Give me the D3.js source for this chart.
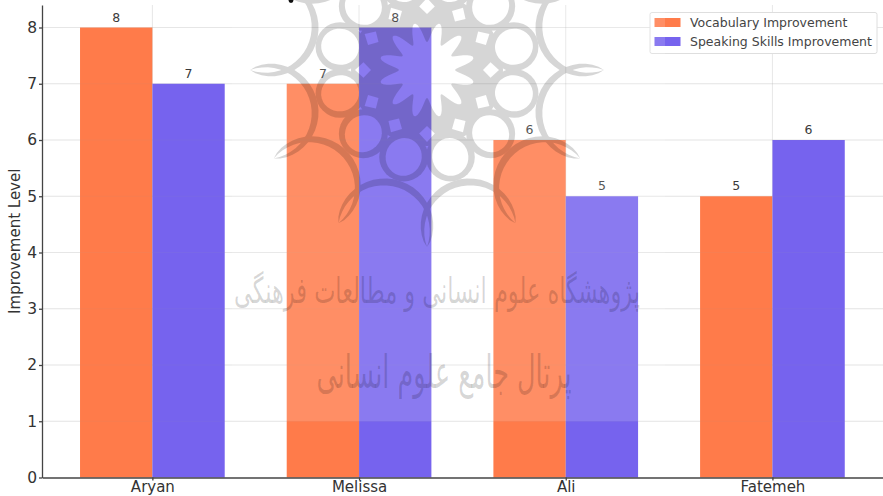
<!DOCTYPE html>
<html>
<head>
<meta charset="utf-8">
<script src="https://cdn.jsdelivr.net/npm/d3@7"></script>
<style>
    html, body { margin: 0; padding: 0; background: #fff; overflow: hidden; }
    svg { display: block; font-family: "DejaVu Sans", sans-serif; }
    .tick text { fill: #333; }
</style>
</head>
<body>
<div id="graph-container"></div>
<script>
const students = ["Aryan", "Melissa", "Ali", "Fatemeh"];
const vocabulary = [8, 7, 6, 5];
const speaking = [7, 8, 5, 6];
const yTicks = [0, 1, 2, 3, 4, 5, 6, 7, 8];
const seriesNames = ["Vocabulary Improvement", "Speaking Skills Improvement"];
const colors = ["#ff7b4a", "#7663ee"];
const watermarkLines = ["پژوهشگاه علوم انسانی و مطالعات فرهنگی", "پرتال جامع علوم انسانی"];

const width = 883, height = 496;
const margin = { top: 5, right: 0, bottom: 18.5, left: 42 };
const barWidth = 0.35;

const svg = d3.select("#graph-container")
    .append("svg")
    .attr("width", width)
    .attr("height", height);

const x = d3.scaleLinear()                                                  // index of student => pixel
    .domain([-0.534, 3.535])
    .range([margin.left, width - margin.right]);

const y = d3.scaleLinear()
    .domain([0, 8.4])
    .range([height - margin.bottom, margin.top]);

// Grid goes under the bars, a fainter copy goes over them further down
function drawGrid(parent, opacity) {
    const g = parent.append("g").attr("stroke", "#a8a8a8").attr("stroke-opacity", opacity);
    g.selectAll("line.h").data(yTicks.slice(1)).join("line")
        .attr("class", "h")
        .attr("x1", margin.left).attr("x2", width)
        .attr("y1", d => y(d)).attr("y2", d => y(d));
    g.selectAll("line.v").data(students).join("line")
        .attr("class", "v")
        .attr("x1", (d, i) => x(i)).attr("x2", (d, i) => x(i))
        .attr("y1", y(0)).attr("y2", margin.top);
}
drawGrid(svg, 0.22);

// Bars
[vocabulary, speaking].forEach((values, s) => {
    const left = i => (s === 0 ? x(i - barWidth) : x(i));
    svg.append("g")
        .selectAll("rect")
        .data(values)
        .join("rect")
        .attr("x", (d, i) => left(i))
        .attr("y", d => y(d))
        .attr("width", x(barWidth) - x(0))
        .attr("height", d => y(0) - y(d))
        .attr("fill", colors[s]);

    svg.append("g")
        .selectAll("text")
        .data(values)
        .join("text")
        .attr("x", (d, i) => left(i) + (x(barWidth) - x(0)) / 2)
        .attr("y", d => y(d) - 6)
        .attr("text-anchor", "middle")
        .attr("font-size", 12.5)
        .attr("fill", "#3a3a3a")
        .text(d => d);
});

drawGrid(svg, 0.08);

// Axes
const xAxis = svg.append("g")
    .attr("transform", `translate(0, ${y(0)})`)
    .call(d3.axisBottom(x).tickValues(d3.range(students.length)).tickFormat(i => students[i]).tickSize(3).tickPadding(1).tickSizeOuter(0));
xAxis.selectAll("text").attr("font-size", 15);

const yAxis = svg.append("g")
    .attr("transform", `translate(${margin.left}, 0)`)
    .call(d3.axisLeft(y).tickValues(yTicks).tickFormat(d3.format("d")).tickSize(3).tickPadding(2).tickSizeOuter(0));
yAxis.selectAll("text").attr("font-size", 15.5);
[xAxis, yAxis].forEach(a => {
    a.attr("font-family", null);
    a.selectAll("path, line").attr("stroke", "#444").attr("stroke-width", 1.3);
});

svg.append("text")
    .attr("transform", `translate(20, ${y(4.2)}) rotate(-90)`)
    .attr("text-anchor", "middle")
    .attr("font-size", 15)
    .attr("fill", "#333")
    .text("Improvement Level");

// Legend
const legend = svg.append("g");
legend.append("rect")
    .attr("x", 650).attr("y", 12.5)
    .attr("width", 227).attr("height", 41)
    .attr("rx", 2)
    .attr("fill", "#fff")
    .attr("stroke", "#dedede");
seriesNames.forEach((name, i) => {
    legend.append("rect")
        .attr("x", 654.5).attr("y", 18 + i * 19)
        .attr("width", 26).attr("height", 9)
        .attr("fill", colors[i]);
    legend.append("text")
        .attr("x", 690).attr("y", 27 + i * 19)
        .attr("font-size", 12.5)
        .attr("fill", "#444")
        .text(name);
});

// Watermark sits on top of everything: a white wash, then the emblem and the two text lines
svg.append("rect")
    .attr("x", 232).attr("y", 0)
    .attr("width", 433).attr("height", y(1))
    .attr("fill", "#fff")
    .attr("fill-opacity", 0.15);

const emblem = { cx: 427, cy: 70, folds: 12 };
const polar = (r, deg) => [
    emblem.cx + r * Math.cos(deg * Math.PI / 180),
    emblem.cy + r * Math.sin(deg * Math.PI / 180)
];
const folds = d3.range(emblem.folds).map(k => k * 30);
const curve = d3.line();

const mask = svg.append("defs").append("mask").attr("id", "emblem-mask").attr("maskUnits", "userSpaceOnUse")
    .attr("x", 0).attr("y", 0).attr("width", width).attr("height", height);
mask.append("circle").attr("cx", emblem.cx).attr("cy", emblem.cy).attr("r", 76).attr("fill", "#fff");

// Rings around the holes
mask.selectAll("circle.ring").data(folds).join("circle")
    .attr("class", "ring")
    .attr("cx", d => polar(90, d + 15)[0]).attr("cy", d => polar(90, d + 15)[1])
    .attr("r", 24.5).attr("fill", "#fff");

// Tapered arcs that run from spike tip to spike tip
function crescent(deg) {
    const [cx, cy] = polar(167, deg + 15);
    const a = Math.atan2(polar(177, deg)[1] - cy, polar(177, deg)[0] - cx);
    const b = Math.atan2(polar(177, deg + 30)[1] - cy, polar(177, deg + 30)[0] - cx);
    let sweep = b - a;
    // always take the side that faces the centre of the emblem
    const toCentre = Math.atan2(emblem.cy - cy, emblem.cx - cx);
    const mid = a + (sweep > 0 ? sweep : sweep + 2 * Math.PI) / 2;
    if (Math.cos(mid - toCentre) < 0) sweep = sweep > 0 ? sweep - 2 * Math.PI : sweep;
    else sweep = sweep > 0 ? sweep : sweep + 2 * Math.PI;
    const ts = d3.range(0, 1.0001, 0.04);
    const outer = ts.map(t => [cx + 46 * Math.cos(a + sweep * t), cy + 46 * Math.sin(a + sweep * t)]);
    const inner = ts.map(t => {
        const r = 46 + 7 * Math.pow(Math.sin(Math.PI * t), 0.7);
        return [cx + r * Math.cos(a + sweep * t), cy + r * Math.sin(a + sweep * t)];
    });
    return curve(outer.concat(inner.reverse())) + "Z";
}
mask.selectAll("path.arc").data(folds).join("path")
    .attr("class", "arc")
    .attr("d", crescent)
    .attr("fill", "#fff");

// Holes
mask.selectAll("ellipse.hole").data(folds).join("ellipse")
    .attr("class", "hole")
    .attr("rx", 19).attr("ry", 18)
    .attr("transform", d => `translate(${polar(90, d + 15)}) rotate(${d + 15})`)
    .attr("fill", "#000");

mask.selectAll("path.diamond").data(folds).join("path")
    .attr("class", "diamond")
    .attr("d", d => curve([polar(56, d), polar(64, d + 7), polar(72, d), polar(64, d - 7)]) + "Z")
    .attr("fill", "#000");

const flower = d3.range(0, 360, 2).map(d => polar(38 + 10 * Math.cos(12 * (d - 15) * Math.PI / 180), d));
mask.append("path").attr("d", curve(flower) + "Z").attr("fill", "#000");

svg.append("rect")
    .attr("width", width).attr("height", height)
    .attr("fill", "#000")
    .attr("fill-opacity", 0.16)
    .attr("mask", "url(#emblem-mask)");

// Persian lines of the watermark
const markText = svg.append("g")
    .attr("fill", "#000")
    .attr("fill-opacity", 0.17)
    .attr("text-anchor", "middle")
    .attr("direction", "rtl");
markText.append("text")
    .attr("transform", "translate(437, 303) scale(1, 1.6)")
    .attr("font-size", 22.5)
    .text(watermarkLines[0]);
markText.append("text")
    .attr("transform", "translate(444, 388) scale(1, 1.8)")
    .attr("font-size", 25.5)
    .text(watermarkLines[1]);

// Bit of the cut-off title that still shows at the top edge
svg.append("circle")
    .attr("cx", 291).attr("cy", 0.5).attr("r", 2.4)
    .attr("fill", "#111");
</script>
</body>
</html>
